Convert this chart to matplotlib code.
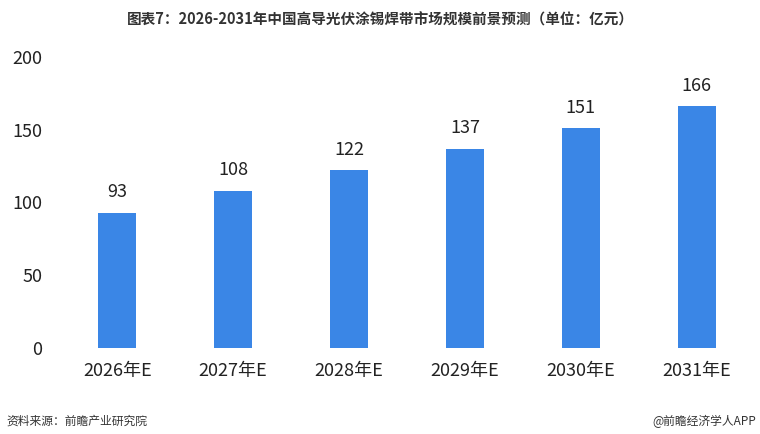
import matplotlib.pyplot as plt

plt.rcParams['font.family'] = ['Noto Sans CJK SC', 'DejaVu Sans']

years = ['2026年E', '2027年E', '2028年E', '2029年E', '2030年E', '2031年E']
values = [93, 108, 122, 137, 151, 166]

fig = plt.figure(figsize=(7.6, 4.34), dpi=100)
ax = fig.add_axes([0.078, 0.198, 0.915, 0.671])
ax.bar(years, values, width=0.33, color='#3a86e6')
for i, v in enumerate(values):
    ax.text(i, v + 8, str(v), ha='center', va='bottom', fontsize=13, color='#222222')

ax.set_ylim(0, 200)
ax.set_yticks([0, 50, 100, 150, 200])
ax.set_xlim(-0.5, 5.5)
for s in ax.spines.values():
    s.set_visible(False)
ax.tick_params(length=0, labelsize=13, colors='#222222')
ax.tick_params(axis='x', pad=10)
ax.tick_params(axis='y', pad=12)

fig.text(0.5, 0.955, '图表7：2026-2031年中国高导光伏涂锡焊带市场规模前景预测（单位：亿元）',
         ha='center', va='center', fontsize=10.5, fontweight='bold', color='#333333')
fig.text(0.008, 0.03, '资料来源：前瞻产业研究院', ha='left', va='center', fontsize=8.5, color='#333333')
fig.text(0.995, 0.03, '@前瞻经济学人APP', ha='right', va='center', fontsize=8.5, color='#333333')

fig.savefig('out.png', dpi=100)
